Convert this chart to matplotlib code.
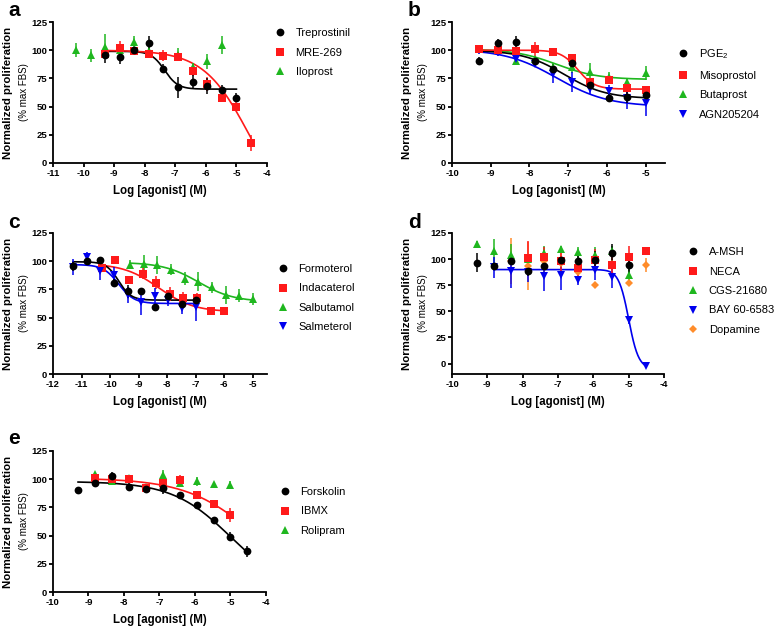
import numpy as np
import matplotlib.pyplot as plt
from matplotlib.lines import Line2D

plt.rcParams['font.family'] = ['Liberation Sans', 'DejaVu Sans']
plt.rcParams['mathtext.fontset'] = 'custom'
plt.rcParams['mathtext.rm'] = 'Liberation Sans'
plt.rcParams['axes.unicode_minus'] = False

BLACK = '#000000'
RED = '#ff1a1a'
GREEN = '#1fb71f'
BLUE = '#0000ee'
ORANGE = '#ff8c2a'

# common concentration grid (log M)
x10 = [-9.294, -8.817, -8.34, -7.863, -7.386, -6.908, -6.431, -5.954, -5.477, -5.0]
x11 = [-9.294, -8.817, -8.34, -7.863, -7.386, -6.908, -6.431, -5.954, -5.477, -5.0, -4.523]

# ---- panel a
trep_y = [96, 94, 100, 106, 83.6, 67, 72, 68, 65, 58]
trep_e = [7, 6, 3, 7, 4, 9, 6, 7, 4, 4]
mre_y = [97, 102, 99, 97, 95, 94, 82, 70, 58, 50, 18]
mre_e = [4, 6, 3, 2, 5, 4, 5, 6, 3, 4, 7]
ilo_x = [-10.248, -9.771, -9.294, -8.817, -8.34, -7.863, -6.908, -6.431, -5.954, -5.477]
ilo_y = [100, 95.5, 103, 100, 107, 99, 96, 85, 90, 105]
ilo_e = [6, 6, 11, 5, 6, 5, 6, 4, 7, 8]
trep_fit = (99, 65.5, -7.35, 2.0)   # top, bottom, logEC50, hill
mre_fit = (100, -50, -4.58, 0.58)

# ---- panel b
pge_y = [90.7, 106, 107, 90, 83.6, 88.6, 69.5, 58, 58.5, 60]
pge_e = [3, 4, 6, 3, 4, 6, 4, 4, 5, 5]
miso_y = [101, 100, 99.6, 101, 98.4, 93, 72, 74, 66.5, 64.5]
miso_e = [3, 4, 3, 6, 2, 3, 3, 3, 3, 3]
buta_y = [101, 100, 90.7, 92, 85, 85, 81, 76, 72, 80]
buta_e = [2, 3, 4, 3, 4, 5, 8, 5, 3, 6]
agn_y = [100, 98, 92, 88, 79, 72, 66, 64, 57.5, 53]
agn_e = [3, 3, 3, 3, 8, 9, 5, 5, 10, 11]
pge_fit = (100, 57, -7.1, 0.8)
miso_fit = (100, 65.5, -6.75, 2.0)
buta_fit = (101, 74, -7.3, 0.8)
agn_fit = (101, 50, -7.3, 0.65)

# ---- panel c
form_x = [-11.294, -10.817, -10.34, -9.863, -9.386, -8.908, -8.431, -7.954, -7.477, -7.0]
form_y = [95.4, 100, 100.8, 81, 73.3, 74, 59.4, 68.9, 62.4, 65.9]
form_e = [4, 3, 3, 3, 6, 0, 3, 6, 5, 5]
salm_y = [95, 104, 91, 88, 70, 64, 69, 66, 58.5, 59]
salm_e = [7, 4, 8, 7, 7, 12, 7, 6, 5, 12]
inda_x = [-10.293, -9.816, -9.339, -8.862, -8.385, -7.908, -7.431, -6.954, -6.477, -6.0]
inda_y = [94, 101.4, 83.6, 89, 81, 71, 67.4, 67, 55.6, 56]
inda_e = [3, 0, 3, 5, 6, 6, 5, 5, 3, 0]
salb_y = [97, 97.5, 96.3, 92.5, 84.5, 82, 77, 70.3, 69.4, 66.5]
salb_e = [4, 8, 8, 5, 6, 8, 5, 8, 6, 5]
form_fit = (99.5, 65.5, -9.7, 2.0)
salm_fit = (97, 62.5, -9.7, 1.6)
inda_fit = (98, 55, -8.3, 0.7)
salb_fit = (99, 64, -6.9, 0.7)

# ---- panel d
amsh_y = [96.4, 93.2, 98, 88.4, 93.2, 99.5, 98, 99.5, 106, 94.5]
amsh_e = [9, 3, 3, 5, 0, 3, 5, 8, 8, 10]
neca_x = [-7.863, -7.386, -6.908, -6.431, -5.954, -5.477, -5.0, -4.523]
neca_y = [101, 102, 98, 91.6, 99.5, 94.5, 102, 107.5]
neca_e = [16, 10, 10, 8, 10, 8, 11, 3]
cgs_y = [114, 107.5, 104, 100, 106, 110, 106.5, 104, 107.5, 85]
cgs_e = [3, 12, 10, 5, 7, 3, 5, 8, 5, 7]
bay_x = [-8.817, -8.34, -7.863, -7.386, -6.908, -6.431, -5.954, -5.477, -5.0, -4.523]
bay_y = [92, 89, 88, 83.6, 85, 80, 90, 83, 42, -2]
bay_e = [10, 17, 10, 14, 15, 5, 10, 11, 4, 0]
dopa_x = [-8.34, -7.863, -7.386, -6.908, -6.431, -5.954, -5.477, -5.0, -4.523]
dopa_y = [98, 93, 98, 96, 88, 75, 95, 77, 94.5]
dopa_e = [22, 23, 10, 10, 5, 0, 5, 3, 7]
bay_fit = (90, -5, -5.0, 3.1)

# ---- panel e
fors_y = [90.5, 96.4, 103, 93.5, 91, 92, 86, 77, 63.4, 49, 36]
fors_e = [0, 2, 3, 4, 3, 5, 3, 3, 2, 4, 5]
ibmx_x = [-8.817, -8.34, -7.863, -7.386, -6.908, -6.431, -5.954, -5.477, -5.0]
ibmx_y = [100.8, 100, 100, 92, 96.4, 99.4, 86, 78, 68.4]
ibmx_e = [3, 2, 3, 3, 4, 4, 2, 3, 6]
roli_y = [104.6, 98, 101, 93, 103.8, 97, 98, 95.5, 95]
roli_e = [0, 0, 3, 2, 4, 3, 4, 0, 3]
fors_fit = (98, 0, -5.0, 0.53)
ibmx_fit = (101, 0, -4.29, 0.445)

W, H = 778, 629
CIRC, SQ, TRI, DIA = 5.6, 5.2, 5.6, 4.0


def box(l, t, r, b):
    return [l / W, 1 - b / H, (r - l) / W, (b - t) / H]


def logistic(x, p):
    top, bottom, logec, hill = p
    return bottom + (top - bottom) / (1 + 10 ** ((x - logec) * hill))


def pts(ax, x, y, e, color, marker, ms):
    ax.errorbar(x, y, yerr=e, fmt=marker, color=color, ms=ms, mew=0,
                elinewidth=1.1, capsize=2.3, capthick=1.1, zorder=3)


def fit(ax, x0, x1, p, color):
    xs = np.linspace(x0, x1, 200)
    ax.plot(xs, logistic(xs, p), color=color, lw=1.2, zorder=2)


def setup(ax, letter, lx, ly, xlim, xticks, ylim, entries, anchor):
    for s in ['top', 'right']:
        ax.spines[s].set_visible(False)
    for s in ['left', 'bottom']:
        ax.spines[s].set_linewidth(1.3)
    ax.set_xlim(*xlim)
    ax.set_ylim(*ylim)
    ax.spines['left'].set_bounds(ylim[0], 125)
    ax.set_xticks(xticks)
    ax.set_yticks([0, 25, 50, 75, 100, 125])
    ax.tick_params(width=1.3, length=2.8, pad=1.5, labelsize=6.8)
    for t in ax.get_xticklabels() + ax.get_yticklabels():
        t.set_fontweight('bold')
    ax.set_xlabel('Log [agonist] (M)', fontsize=8.3, fontweight='bold', labelpad=5)
    bw = ax.get_position().width * W
    ax.text(-45 / bw, 0.5, 'Normalized proliferation', rotation=90, ha='center',
            va='center', fontsize=8.2, fontweight='bold', transform=ax.transAxes)
    ax.text(-29 / bw, 0.5, '(% max FBS)', rotation=90, ha='center', va='center',
            fontsize=7.0, transform=ax.transAxes)
    fig.text(lx / W, 1 - ly / H, letter, fontsize=15, fontweight='bold',
             ha='center', va='center')
    handles = [Line2D([], [], ls='none', marker=m, color=c, ms=ms, mew=0)
               for (lab, c, m, ms) in entries]
    ax.legend(handles, [e[0] for e in entries], loc='upper left', bbox_to_anchor=anchor,
              frameon=False, fontsize=8, handlelength=1.0, handletextpad=0.9,
              labelspacing=0.85, borderpad=0, borderaxespad=0)


fig = plt.figure(figsize=(W / 100, H / 100), dpi=100)

# a
ax = fig.add_axes(box(53, 22, 267, 163))
fit(ax, -9.294, -5.0, trep_fit, BLACK)
fit(ax, -9.294, -4.523, mre_fit, RED)
pts(ax, ilo_x, ilo_y, ilo_e, GREEN, '^', TRI)
pts(ax, x11, mre_y, mre_e, RED, 's', SQ)
pts(ax, x10, trep_y, trep_e, BLACK, 'o', CIRC)
setup(ax, 'a', 14, 10, (-11, -4), range(-11, -3), (0, 125),
      [('Treprostinil', BLACK, 'o', CIRC), ('MRE-269', RED, 's', SQ), ('Iloprost', GREEN, '^', TRI)],
      (1.035, 0.955))

# b
ax = fig.add_axes(box(452, 22, 665, 163))
fit(ax, -9.294, -5.0, buta_fit, GREEN)
fit(ax, -9.294, -5.0, agn_fit, BLUE)
fit(ax, -9.294, -5.0, pge_fit, BLACK)
fit(ax, -9.294, -5.0, miso_fit, RED)
pts(ax, x10, buta_y, buta_e, GREEN, '^', TRI)
pts(ax, x10, agn_y, agn_e, BLUE, 'v', TRI)
pts(ax, x10, miso_y, miso_e, RED, 's', SQ)
pts(ax, x10, pge_y, pge_e, BLACK, 'o', CIRC)
setup(ax, 'b', 414, 10, (-10, -4.5), range(-10, -4), (0, 125),
      [('PGE$_\\mathregular{2}$', BLACK, 'o', CIRC), ('Misoprostol', RED, 's', SQ),
       ('Butaprost', GREEN, '^', TRI), ('AGN205204', BLUE, 'v', TRI)],
      (1.059, 0.82))

# c
ax = fig.add_axes(box(53, 233, 267, 374))
fit(ax, -9.294, -5.0, salb_fit, GREEN)
fit(ax, -10.293, -6.0, inda_fit, RED)
fit(ax, -11.294, -7.0, salm_fit, BLUE)
fit(ax, -11.294, -7.0, form_fit, BLACK)
pts(ax, x10, salb_y, salb_e, GREEN, '^', TRI)
pts(ax, inda_x, inda_y, inda_e, RED, 's', SQ)
pts(ax, form_x, salm_y, salm_e, BLUE, 'v', TRI)
pts(ax, form_x, form_y, form_e, BLACK, 'o', CIRC)
setup(ax, 'c', 14, 223, (-12, -4.5), range(-12, -4), (0, 125),
      [('Formoterol', BLACK, 'o', CIRC), ('Indacaterol', RED, 's', SQ),
       ('Salbutamol', GREEN, '^', TRI), ('Salmeterol', BLUE, 'v', TRI)],
      (1.049, 0.78))

# d
ax = fig.add_axes(box(452, 233, 664, 374))
fit(ax, -8.817, -4.523, bay_fit, BLUE)
pts(ax, dopa_x, dopa_y, dopa_e, ORANGE, 'D', DIA)
pts(ax, x10, cgs_y, cgs_e, GREEN, '^', TRI)
pts(ax, bay_x, bay_y, bay_e, BLUE, 'v', TRI)
pts(ax, neca_x, neca_y, neca_e, RED, 's', SQ)
pts(ax, x10, amsh_y, amsh_e, BLACK, 'o', CIRC)
setup(ax, 'd', 414, 223, (-10, -4), range(-10, -3), (-10, 125),
      [('A-MSH', BLACK, 'o', CIRC), ('NECA', RED, 's', SQ), ('CGS-21680', GREEN, '^', TRI),
       ('BAY 60-6583', BLUE, 'v', TRI), ('Dopamine', ORANGE, 'D', DIA)],
      (1.111, 0.90))

# e
ax = fig.add_axes(box(53, 451, 266, 592))
fit(ax, -9.294, -4.523, fors_fit, BLACK)
fit(ax, -8.817, -5.0, ibmx_fit, RED)
pts(ax, ibmx_x, roli_y, roli_e, GREEN, '^', TRI)
pts(ax, ibmx_x, ibmx_y, ibmx_e, RED, 's', SQ)
pts(ax, x11, fors_y, fors_e, BLACK, 'o', CIRC)
setup(ax, 'e', 14, 438, (-10, -4), range(-10, -3), (0, 125),
      [('Forskolin', BLACK, 'o', CIRC), ('IBMX', RED, 's', SQ), ('Rolipram', GREEN, '^', TRI)],
      (1.063, 0.745))

fig.savefig('out.png', dpi=100)
